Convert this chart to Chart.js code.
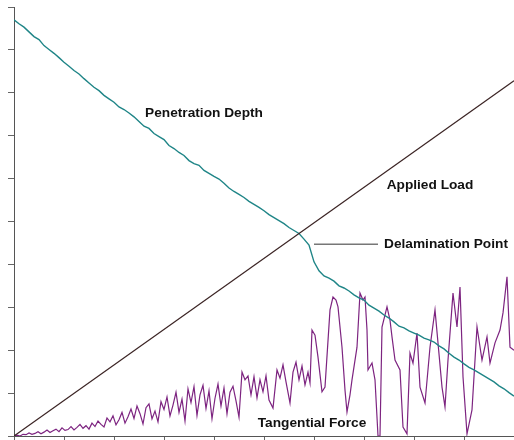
<!DOCTYPE html>
<html>
<head>
<meta charset="utf-8">
<script src="https://cdn.jsdelivr.net/npm/chart.js@4/dist/chart.umd.min.js"></script>
<style>
  body { margin: 0; background: #fff; }
  #wrap { width: 514px; height: 440px; position: relative; }
</style>
</head>
<body>
<div id="wrap"><canvas id="myChart"></canvas></div>
<script>
// applied load: straight ramp
const loadX = [0, 10];
const loadY = [0, 8.28];

// penetration depth, sampled every 0.1
const depthX = [];
for (let i = 0; i <= 100; i++) depthX.push(i / 10);
const depthY = [
  9.70, 9.61, 9.53, 9.42, 9.31, 9.24, 9.10, 9.01, 8.92, 8.82,
  8.71, 8.62, 8.52, 8.44, 8.33, 8.23, 8.13, 8.05, 7.94, 7.86,
  7.78, 7.67, 7.61, 7.53, 7.44, 7.33, 7.22, 7.17, 7.05, 6.98,
  6.91, 6.77, 6.70, 6.61, 6.54, 6.42, 6.35, 6.31, 6.19, 6.12,
  6.05, 5.99, 5.89, 5.78, 5.70, 5.63, 5.56, 5.47, 5.40, 5.33,
  5.25, 5.16, 5.09, 5.02, 4.95, 4.86, 4.79, 4.72, 4.59, 4.45,
  4.06, 3.85, 3.73, 3.68, 3.61, 3.50, 3.45, 3.38, 3.29, 3.22,
  3.17, 3.05, 2.98, 2.91, 2.82, 2.75, 2.66, 2.56, 2.52, 2.45,
  2.40, 2.35, 2.28, 2.24, 2.19, 2.10, 2.03, 1.93, 1.84, 1.77,
  1.68, 1.60, 1.54, 1.47, 1.40, 1.33, 1.26, 1.17, 1.10, 1.01,
  0.93
];

// tangential force
const forceX = [
  0.00, 0.06, 0.12, 0.18, 0.24, 0.30, 0.36, 0.42, 0.48, 0.54,
  0.60, 0.66, 0.72, 0.78, 0.84, 0.90, 0.96, 1.02, 1.08, 1.14,
  1.20, 1.26, 1.32, 1.38, 1.44, 1.50, 1.56, 1.62, 1.68, 1.74,
  1.80, 1.86, 1.92, 1.98, 2.04, 2.10, 2.16, 2.22, 2.28, 2.34,
  2.40, 2.46, 2.52, 2.58, 2.64, 2.70, 2.76, 2.82, 2.88, 2.94,
  3.00, 3.06, 3.12, 3.18, 3.24, 3.30, 3.36, 3.42, 3.48, 3.54,
  3.60, 3.66, 3.72, 3.78, 3.84, 3.90, 3.96, 4.02, 4.08, 4.14,
  4.20, 4.26, 4.32, 4.38, 4.44, 4.50,
  4.56, 4.62, 4.68, 4.74, 4.80, 4.86, 4.92, 4.98, 5.04, 5.10,
  5.18, 5.26, 5.32, 5.38, 5.44, 5.52, 5.58, 5.64, 5.70, 5.76,
  5.82, 5.88, 5.92, 5.96, 6.02, 6.08, 6.16, 6.22, 6.32, 6.38,
  6.44, 6.48, 6.56, 6.62, 6.66, 6.72, 6.76, 6.86, 6.92, 6.98,
  7.02, 7.06, 7.08, 7.16, 7.22, 7.28, 7.32, 7.36, 7.46, 7.52,
  7.56, 7.62, 7.72, 7.78, 7.86, 7.92, 7.98, 8.06, 8.12, 8.22,
  8.32, 8.42, 8.48, 8.56, 8.62, 8.68, 8.78, 8.86, 8.92, 8.98,
  9.06, 9.16, 9.26, 9.36, 9.46, 9.52, 9.62, 9.72, 9.78, 9.86,
  9.92, 10.00
];
const forceY = [
  0.00, 0.02, 0.00, 0.04, 0.03, 0.07, 0.04, 0.06, 0.10, 0.05,
  0.09, 0.14, 0.08, 0.12, 0.16, 0.10, 0.19, 0.13, 0.15, 0.22,
  0.14, 0.20, 0.27, 0.18, 0.24, 0.16, 0.30, 0.22, 0.35, 0.27,
  0.21, 0.42, 0.33, 0.47, 0.26, 0.38, 0.55, 0.30, 0.45, 0.63,
  0.41, 0.70, 0.52, 0.28, 0.66, 0.75, 0.40, 0.58, 0.33, 0.80,
  0.62, 0.91, 0.47, 0.72, 1.02, 0.55, 0.86, 0.35, 1.10, 0.78,
  1.15, 0.48, 0.96, 1.18, 0.64, 1.05, 0.40, 0.88, 1.21, 0.70,
  1.12, 0.52, 1.02, 1.16, 0.82, 0.44,
  1.49, 1.31, 1.40, 0.96, 1.38, 0.89, 1.31, 1.03, 1.40, 0.84,
  0.65, 1.54, 1.35, 1.66, 1.26, 0.77, 1.49, 1.72, 1.31, 1.63,
  1.19, 1.49, 1.24, 2.47, 2.35, 1.84, 1.03, 1.14, 2.94, 3.24,
  3.17, 3.01, 2.07, 1.07, 0.56, 0.96, 1.31, 2.07, 3.33, 3.17,
  3.24, 2.47, 1.54, 1.70, 1.31, 0.00, 0.00, 2.54, 3.01, 2.70,
  2.31, 1.77, 1.54, 0.21, 0.05, 1.93, 1.70, 2.40, 1.14, 0.77,
  2.07, 2.94, 2.17, 1.14, 0.68, 1.77, 3.33, 2.54, 3.47, 1.38,
  0.05, 0.61, 2.54, 1.77, 2.31, 1.70, 2.17, 2.47, 2.87, 3.71,
  2.07, 2.00
];

const toPoints = (xs, ys) => xs.map((x, i) => ({ x: x, y: ys[i] }));

// text labels drawn in data space
const labels = [
  { text: "Penetration Depth", x: 3.8, y: 7.52, align: "center" },
  { text: "Applied Load", x: 8.32, y: 5.85, align: "center" },
  { text: "Delamination Point", x: 7.4, y: 4.47, align: "left" },
  { text: "Tangential Force", x: 5.96, y: 0.3, align: "center" },
];

const textPlugin = {
  id: "textLabels",
  afterDatasetsDraw(chart) {
    const c = chart.ctx;
    const xs = chart.scales.x;
    const ys = chart.scales.y;
    c.save();
    // leader line to delamination point
    c.strokeStyle = "#777";
    c.lineWidth = 1.5;
    c.beginPath();
    c.moveTo(xs.getPixelForValue(6.0), ys.getPixelForValue(4.47));
    c.lineTo(xs.getPixelForValue(7.28), ys.getPixelForValue(4.47));
    c.stroke();
    c.fillStyle = "#111";
    c.font = "bold 13.7px Arial, 'Liberation Sans', sans-serif";
    c.textBaseline = "middle";
    labels.forEach((l) => {
      c.textAlign = l.align;
      c.fillText(l.text, xs.getPixelForValue(l.x), ys.getPixelForValue(l.y));
    });
    c.restore();
  },
};

const ctx = document.getElementById("myChart");
let myChart = new Chart(ctx, {
  type: "line",
  data: {
    datasets: [
      {
        label: "Applied Load",
        data: toPoints(loadX, loadY),
        borderColor: "#3b2424",
        borderWidth: 1.2,
        pointRadius: 0,
      },
      {
        label: "Penetration Depth",
        data: toPoints(depthX, depthY),
        borderColor: "#1f8587",
        borderWidth: 1.4,
        pointRadius: 0,
      },
      {
        label: "Tangential Force",
        data: toPoints(forceX, forceY),
        borderColor: "#7d2480",
        borderWidth: 1.2,
        pointRadius: 0,
      },
    ],
  },
  options: {
    responsive: true,
    maintainAspectRatio: false,
    animation: false,
    layout: { padding: { left: 8, top: 7, right: 0, bottom: 0 } },
    plugins: { legend: { display: false }, tooltip: { enabled: false } },
    scales: {
      x: {
        type: "linear",
        min: 0,
        max: 10,
        ticks: { display: false, stepSize: 1 },
        grid: { drawOnChartArea: false, drawTicks: true, tickLength: 4, color: "#666" },
        border: { color: "#555", width: 1 },
      },
      y: {
        min: 0,
        max: 10,
        ticks: { display: false, stepSize: 1 },
        grid: { drawOnChartArea: false, drawTicks: true, tickLength: 6, color: "#666" },
        border: { color: "#555", width: 1 },
      },
    },
  },
  plugins: [textPlugin],
});
</script>
</body>
</html>
